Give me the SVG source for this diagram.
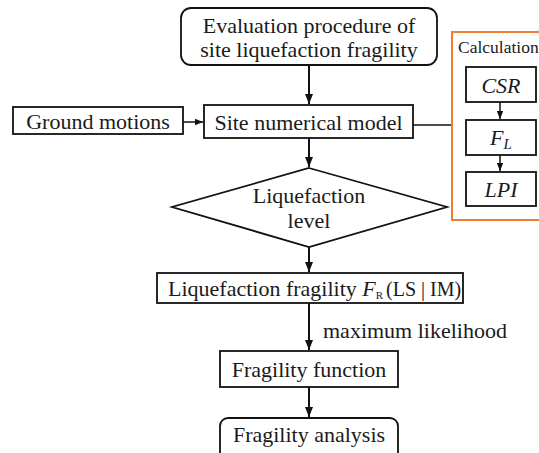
<svg xmlns="http://www.w3.org/2000/svg" width="539" height="453" viewBox="0 0 539 453" font-family="'Liberation Serif', Tinos, 'Times New Roman', Times, 'DejaVu Serif', serif">
<style>
text{font-family:'Liberation Serif', Tinos, 'Times New Roman', Times, 'DejaVu Serif', serif;fill:#1a1a1a;}
.t{font-size:22px;text-anchor:middle;}
.box{fill:#fff;stroke:#111;stroke-width:1.8;}
.con{stroke:#111;stroke-width:2;fill:none;}
.thin{stroke:#111;stroke-width:1.5;fill:none;}
.it{font-style:italic;}
</style>
<defs>
<marker id="ah" markerUnits="userSpaceOnUse" markerWidth="10" markerHeight="10" viewBox="0 0 10 10" refX="10" refY="5" orient="auto">
<path d="M0,1 L10,5 L0,9 Z" fill="#111"/>
</marker>
<marker id="ahs" markerUnits="userSpaceOnUse" markerWidth="8" markerHeight="8" viewBox="0 0 10 10" refX="10" refY="5" orient="auto">
<path d="M0,1 L10,5 L0,9 Z" fill="#111"/>
</marker>
</defs>
<rect width="539" height="453" fill="#fff"/>
<g id="connectors">
<line class="con" x1="309" y1="65" x2="309" y2="104" marker-end="url(#ah)"/>
<line class="thin" x1="183" y1="122" x2="203" y2="122" marker-end="url(#ahs)"/>
<line class="thin" x1="413" y1="125" x2="452" y2="125"/>
<line class="con" x1="309" y1="138" x2="309" y2="167" marker-end="url(#ah)"/>
<line class="con" x1="309" y1="247" x2="309" y2="272" marker-end="url(#ah)"/>
<line class="con" x1="309" y1="303" x2="309" y2="350" marker-end="url(#ah)"/>
<line class="con" x1="309" y1="387" x2="309" y2="417" marker-end="url(#ah)"/>
<line class="thin" x1="500" y1="102" x2="500" y2="119" marker-end="url(#ahs)"/>
<line class="thin" x1="500" y1="155" x2="500" y2="171" marker-end="url(#ahs)"/>
</g>
<g id="title">
<rect class="box" x="181" y="8" width="256" height="57" rx="10" stroke-width="2"/>
<text class="t" x="309" y="33">Evaluation procedure of</text>
<text class="t" x="309" y="57">site liquefaction fragility</text>
</g>
<g id="ground">
<rect class="box" x="13" y="107" width="170" height="27"/>
<text class="t" x="98" y="129">Ground motions</text>
</g>
<g id="site">
<rect class="box" x="204" y="105" width="209" height="33"/>
<text class="t" x="308.5" y="130">Site numerical model</text>
</g>
<g id="calc">
<rect x="452" y="32" width="100" height="188" fill="none" stroke="#ED7D31" stroke-width="2"/>
<text x="458" y="53" style="font-size:17.5px">Calculation</text>
</g>
<g id="csr">
<rect class="box" x="466" y="67" width="70" height="35"/>
<text class="t it" x="501" y="93">CSR</text>
</g>
<g id="fl">
<rect class="box" x="466" y="120" width="70" height="35"/>
<text class="t it" x="501" y="145">F<tspan font-size="15" dy="4">L</tspan></text>
</g>
<g id="lpi">
<rect class="box" x="466" y="172" width="70" height="34"/>
<text class="t it" x="501" y="197">LPI</text>
</g>
<g id="level">
<polygon class="box" points="309,168 447,207 309,247 172,207"/>
<text class="t" x="309" y="203">Liquefaction</text>
<text class="t" x="309" y="228">level</text>
</g>
<g id="lqfrag">
<rect class="box" x="157" y="273" width="306" height="30"/>
<text x="168" y="296" style="font-size:22px">Liquefaction fragility <tspan class="it">F</tspan><tspan font-size="11" dy="3">R</tspan><tspan dy="-3" dx="3" font-size="20">(LS | IM)</tspan></text>
</g>
<text x="323" y="338" style="font-size:22px">maximum likelihood</text>
<g id="func">
<rect class="box" x="220" y="351" width="178" height="36"/>
<text class="t" x="309" y="377">Fragility function</text>
</g>
<g id="analysis">
<rect class="box" x="220" y="418" width="178" height="45" rx="8"/>
<text class="t" x="309" y="442">Fragility analysis</text>
</g>
</svg>
